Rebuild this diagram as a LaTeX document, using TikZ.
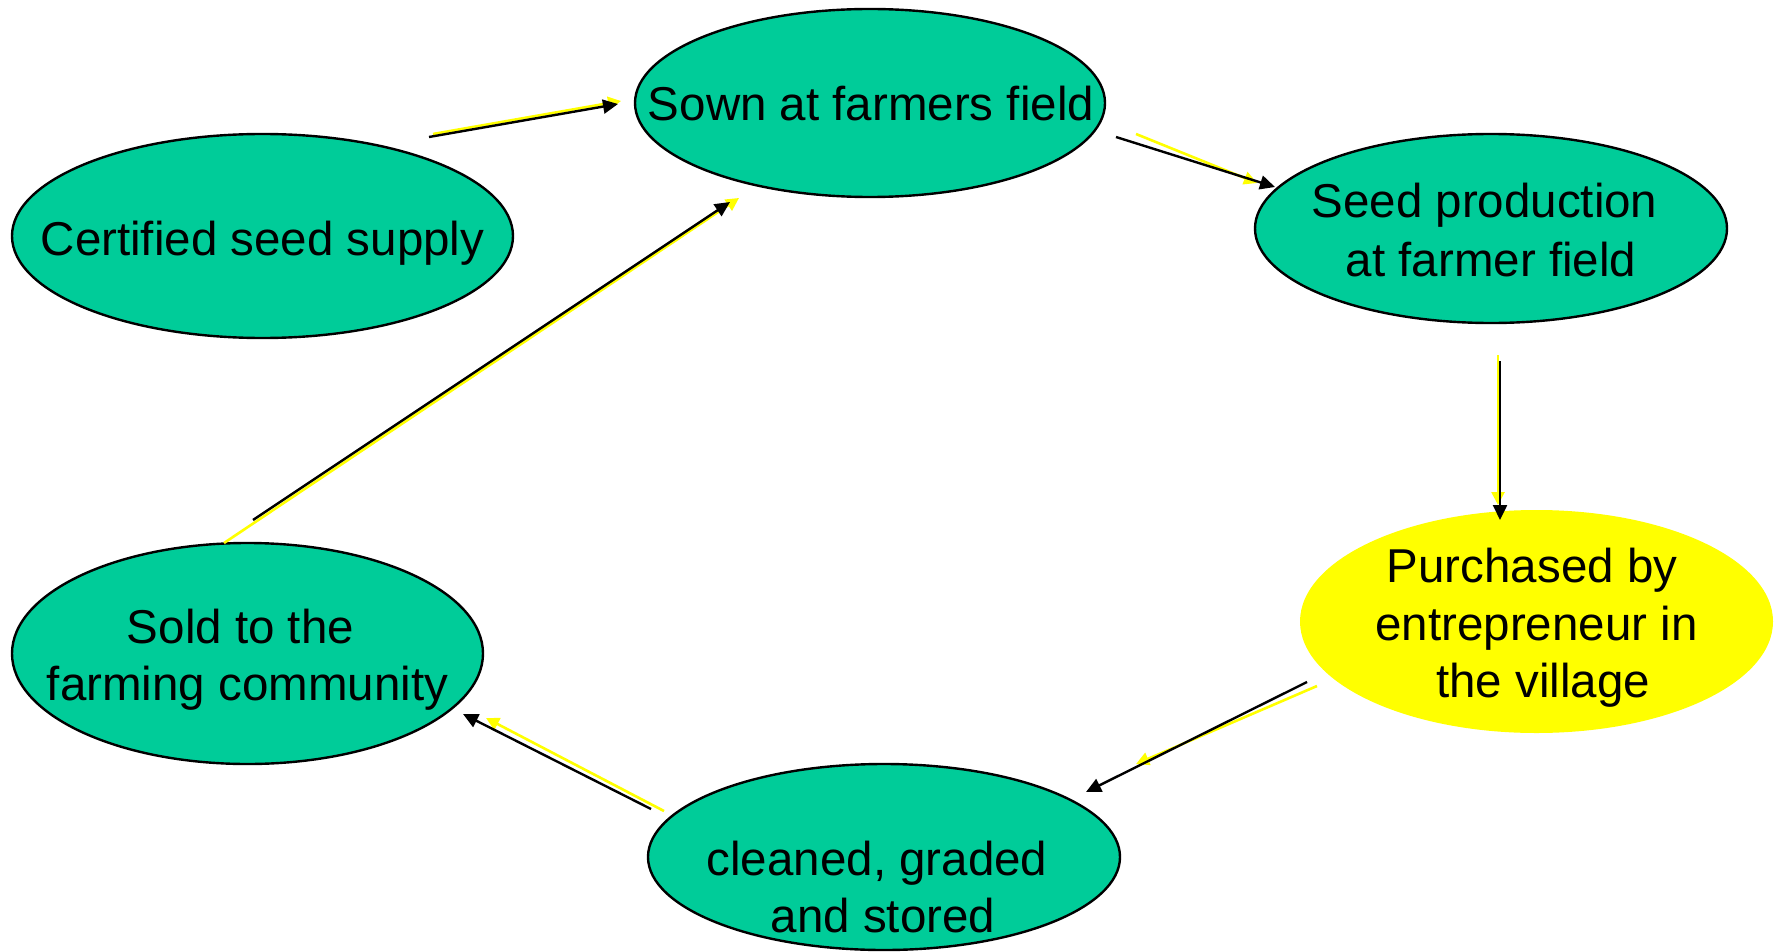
\documentclass[tikz,border=0pt]{standalone}
\usepackage{fontspec}
\setmainfont{Liberation Sans}
\usetikzlibrary{shapes.geometric,arrows.meta}
\definecolor{stagegreen}{HTML}{00CC99}
\definecolor{shadowyellow}{HTML}{FFFF00}
\begin{document}
\begin{tikzpicture}[x=1pt,y=-1pt,
  stage/.style={ellipse, draw=black, line width=2.4pt, fill=stagegreen, inner sep=0pt},
  hilite/.style={ellipse, fill=shadowyellow, inner sep=0pt},
  lbl/.style={anchor=base, inner sep=0pt, font=\fontsize{47.5}{57}\selectfont},
  conn/.style={draw=black, line width=2.4pt, -{Triangle[length=15pt,width=14pt]}},
  glow/.style={draw=shadowyellow, line width=2.6pt, -{Triangle[length=13pt,width=13pt]}}]
\useasboundingbox (0,0) rectangle (1779,952);
\fill[white] (0,0) rectangle (1779,952);

% stages
\node[stage, minimum width=501pt, minimum height=204pt] (e1) at (262.5,236) {};
\node[stage, minimum width=470pt, minimum height=188pt] (e2) at (870,103) {};
\node[stage, minimum width=472pt, minimum height=189pt] (e3) at (1491,228.5) {};
\node[hilite, minimum width=473pt, minimum height=223pt] (e4) at (1536.5,621.5) {};
\node[stage, minimum width=472pt, minimum height=186pt] (e5) at (884,857) {};
\node[stage, minimum width=471pt, minimum height=221pt] (e6) at (247.5,653.5) {};

% labels
\node[lbl] (t1) at (262.5,255) {Certified seed supply};
\node[lbl] (t2) at (871,121) {Sown at farmers field};
\node[lbl] (t3a) at (1484.5,217) {Seed production};
\node[lbl] (t3b) at (1491,276) {at farmer field};
\node[lbl] (t4a) at (1532,582) {Purchased by};
\node[lbl] (t4b) at (1536.5,640) {entrepreneur in};
\node[lbl] (t4c) at (1543,697) {the village};
\node[lbl] (t5a) at (877,875) {cleaned, graded};
\node[lbl] (t5b) at (883,932) {and stored};
\node[lbl] (t6a) at (240.5,643) {Sold to the};
\node[lbl] (t6b) at (247.5,700) {farming community};

% connector ends
\coordinate (aS) at (429,137);  \coordinate (aE) at (618,104);
\coordinate (aYS) at (433,134); \coordinate (aYE) at (621,101);
\coordinate (bS) at (1116,137); \coordinate (bE) at (1275,187);
\coordinate (bYS) at (1136,134); \coordinate (bYE) at (1257,183);
\coordinate (cS) at (1500,361); \coordinate (cE) at (1500,520);
\coordinate (cYS) at (1498,355); \coordinate (cYE) at (1498,505);
\coordinate (dS) at (1307,682); \coordinate (dE) at (1086,792);
\coordinate (dYS) at (1317,686); \coordinate (dYE) at (1136,764);
\coordinate (fS) at (651,809); \coordinate (fE) at (463,714);
\coordinate (fYS) at (664,811); \coordinate (fYE) at (486,718);
\coordinate (gS) at (253,520); \coordinate (gE) at (730,202);
\coordinate (gYS) at (224,543); \coordinate (gYE) at (739,198);

% yellow shadows
\draw[glow] (aYS) -- (aYE);
\draw[glow] (bYS) -- (bYE);
\draw[glow] (cYS) -- (cYE);
\draw[glow] (dYS) -- (dYE);
\draw[glow] (fYS) -- (fYE);
\draw[glow] (gYS) -- (gYE);

% black arrows
\draw[conn] (aS) -- (aE);
\draw[conn] (bS) -- (bE);
\draw[conn] (cS) -- (cE);
\draw[conn] (dS) -- (dE);
\draw[conn] (fS) -- (fE);
\draw[conn] (gS) -- (gE);
\end{tikzpicture}
\end{document}
